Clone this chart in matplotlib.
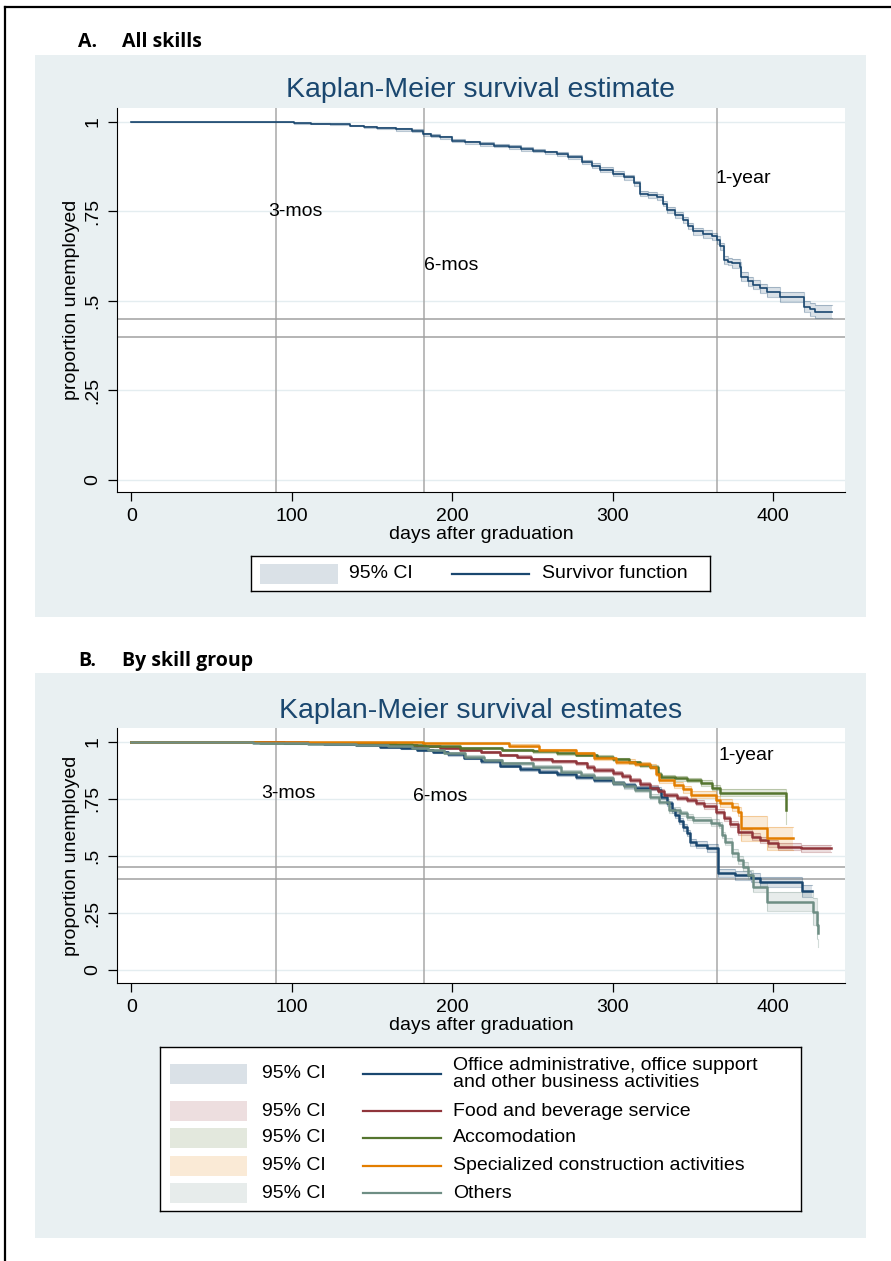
import matplotlib
matplotlib.use("Agg")
import matplotlib.pyplot as plt
from matplotlib.patches import Rectangle
from matplotlib.lines import Line2D

plt.rcParams["font.family"] = ["Liberation Sans", "DejaVu Sans"]

W, H = 891, 1261
BG = "#E9F0F2"
NAVY = "#1A476F"

# panel A - all skills: step knots (days, survivor, half width of 95% CI)
a_days = [0, 101, 112, 124, 136, 145, 153, 165, 175, 182, 187, 192, 200, 208, 217, 226, 235, 243, 250, 258,
          265, 272, 281, 287, 292, 300, 307, 313, 317, 322, 327.5, 331, 334, 339, 344, 347, 350, 356, 362, 365,
          367, 369, 372, 374, 379, 380, 384, 387.5, 392, 396, 404, 419, 423, 426, 436.5]
a_surv = [1.0, 0.996, 0.995, 0.993, 0.99, 0.986, 0.982, 0.979, 0.976, 0.966, 0.962, 0.957, 0.948, 0.943, 0.938,
          0.934, 0.93, 0.925, 0.92, 0.915, 0.91, 0.902, 0.889, 0.878, 0.866, 0.855, 0.845, 0.829, 0.80, 0.795,
          0.79, 0.772, 0.754, 0.74, 0.726, 0.71, 0.694, 0.687, 0.68, 0.67, 0.652, 0.615, 0.61, 0.605, 0.596,
          0.568, 0.555, 0.545, 0.535, 0.525, 0.512, 0.484, 0.476, 0.47, 0.47]
a_ci = [0.0, 0.002, 0.002, 0.002, 0.002, 0.003, 0.003, 0.003, 0.003, 0.004, 0.004, 0.004, 0.004, 0.005, 0.005,
        0.005, 0.005, 0.005, 0.005, 0.005, 0.006, 0.006, 0.006, 0.006, 0.007, 0.007, 0.007, 0.007, 0.008, 0.008,
        0.008, 0.008, 0.009, 0.009, 0.009, 0.009, 0.01, 0.01, 0.01, 0.01, 0.011, 0.011, 0.011, 0.012, 0.012,
        0.012, 0.012, 0.013, 0.013, 0.013, 0.014, 0.016, 0.018, 0.018, 0.018]

# panel B - by skill group
off_days = [0, 95, 120, 140, 155, 168, 178, 188, 197, 207, 218, 230, 242, 254, 265, 277, 288, 300, 307, 314,
            328, 330, 334, 337, 339, 341, 344, 346, 348, 352, 359, 365.5, 376, 386, 392, 417.7, 424]
off_surv = [1.0, 0.995, 0.99, 0.985, 0.978, 0.972, 0.965, 0.955, 0.945, 0.93, 0.915, 0.895, 0.88, 0.87, 0.86,
            0.848, 0.835, 0.82, 0.81, 0.797, 0.79, 0.76, 0.73, 0.70, 0.68, 0.655, 0.625, 0.60, 0.56, 0.55,
            0.535, 0.424, 0.415, 0.405, 0.387, 0.346, 0.346]
off_ci = [0.0, 0.002, 0.003, 0.003, 0.004, 0.004, 0.005, 0.005, 0.006, 0.006, 0.007, 0.007, 0.008, 0.008, 0.008,
          0.009, 0.009, 0.01, 0.01, 0.01, 0.011, 0.011, 0.012, 0.012, 0.013, 0.013, 0.014, 0.014, 0.015, 0.015,
          0.016, 0.018, 0.02, 0.02, 0.022, 0.028, 0.028]

food_days = [0, 110, 150, 165, 178, 192, 205, 218, 230, 240, 249, 262, 277, 284, 288, 300, 306, 311, 317, 323,
             328, 332, 340, 346, 352, 357, 364, 369, 373, 378, 387, 392, 397, 403, 417, 436]
food_surv = [1.0, 0.997, 0.993, 0.987, 0.98, 0.972, 0.965, 0.955, 0.943, 0.935, 0.924, 0.915, 0.906, 0.89, 0.877,
             0.865, 0.85, 0.833, 0.815, 0.80, 0.785, 0.768, 0.755, 0.746, 0.733, 0.719, 0.694, 0.665, 0.64, 0.607,
             0.585, 0.57, 0.556, 0.541, 0.534, 0.534]
food_ci = [0.0, 0.002, 0.003, 0.003, 0.004, 0.004, 0.005, 0.005, 0.005, 0.006, 0.006, 0.006, 0.007, 0.007, 0.007,
           0.008, 0.008, 0.008, 0.009, 0.009, 0.009, 0.01, 0.01, 0.01, 0.011, 0.011, 0.012, 0.012, 0.013, 0.013,
           0.014, 0.014, 0.015, 0.015, 0.016, 0.016]

acc_days = [0, 80, 105, 150, 175, 183, 205, 231, 250, 265, 277, 290, 300, 310, 317, 323, 328, 330, 339, 346,
            355, 362, 367, 408]
acc_surv = [1.0, 0.997, 0.995, 0.99, 0.985, 0.98, 0.975, 0.965, 0.958, 0.95, 0.943, 0.935, 0.924, 0.91, 0.90,
            0.892, 0.86, 0.848, 0.84, 0.833, 0.819, 0.80, 0.778, 0.70]
acc_ci = [0.0, 0.002, 0.002, 0.003, 0.003, 0.004, 0.004, 0.005, 0.005, 0.006, 0.006, 0.007, 0.007, 0.008, 0.008,
          0.008, 0.009, 0.009, 0.01, 0.01, 0.012, 0.013, 0.015, 0.06]

con_days = [0, 182, 235, 254, 277, 288, 302, 314, 323, 327, 329, 338, 344, 349, 364, 367, 374, 378, 380, 396, 412]
con_surv = [1.0, 0.994, 0.984, 0.965, 0.95, 0.928, 0.914, 0.904, 0.892, 0.86, 0.833, 0.811, 0.792, 0.768, 0.746,
            0.731, 0.716, 0.694, 0.621, 0.577, 0.577]
con_ci = [0.0, 0.003, 0.005, 0.006, 0.007, 0.008, 0.009, 0.01, 0.01, 0.011, 0.012, 0.013, 0.014, 0.015, 0.016,
          0.017, 0.018, 0.02, 0.055, 0.052, 0.052]

oth_days = [0, 76, 110, 140, 160, 175, 185, 195, 208, 220, 231, 250, 268, 280, 288, 300, 307, 314, 323, 329,
            335, 342, 346, 350, 361, 366, 368, 370, 374, 378, 381, 384, 387.5, 396, 425, 427, 428]
oth_surv = [1.0, 0.996, 0.993, 0.988, 0.982, 0.975, 0.965, 0.952, 0.936, 0.92, 0.906, 0.89, 0.87, 0.855, 0.84,
            0.819, 0.805, 0.789, 0.76, 0.738, 0.702, 0.687, 0.672, 0.658, 0.646, 0.636, 0.592, 0.563, 0.512, 0.482,
            0.453, 0.417, 0.366, 0.30, 0.256, 0.197, 0.161]
oth_ci = [0.0, 0.002, 0.003, 0.003, 0.004, 0.004, 0.005, 0.005, 0.006, 0.006, 0.007, 0.007, 0.008, 0.008, 0.009,
          0.009, 0.01, 0.01, 0.011, 0.011, 0.012, 0.012, 0.013, 0.013, 0.014, 0.014, 0.015, 0.016, 0.017, 0.018,
          0.019, 0.02, 0.022, 0.04, 0.06, 0.06, 0.06]

groups = ["Office administrative, office support\nand other business activities", "Food and beverage service",
          "Accomodation", "Specialized construction activities", "Others"]
group_colors = ["#1A476F", "#90353B", "#55752F", "#E37E00", "#6E8E84"]
group_data = [(off_days, off_surv, off_ci), (food_days, food_surv, food_ci), (acc_days, acc_surv, acc_ci),
              (con_days, con_surv, con_ci), (oth_days, oth_surv, oth_ci)]

ref_days = [90, 182.5, 365]
ref_props = [0.45, 0.40]
mark_text = ["3-mos", "6-mos", "1-year"]
x_ticks = [0, 100, 200, 300, 400]
y_ticks = [0, 0.25, 0.5, 0.75, 1]
y_labels = ["0", ".25", ".5", ".75", "1"]

fig = plt.figure(figsize=(W / 100, H / 100), dpi=100)


def rect(x0, y0, x1, y1):
    return [x0 / W, 1 - y1 / H, (x1 - x0) / W, (y1 - y0) / H]


def km(ax, days, surv, ci, color, lw):
    lo = [s - c for s, c in zip(surv, ci)]
    hi = [s + c for s, c in zip(surv, ci)]
    ax.fill_between(days, lo, hi, step="post", color=color, alpha=0.16, lw=0, zorder=2)
    ax.step(days, lo, where="post", color=color, alpha=0.3, lw=0.8, zorder=2)
    ax.step(days, hi, where="post", color=color, alpha=0.3, lw=0.8, zorder=2)
    ax.step(days, surv, where="post", color=color, lw=lw, zorder=3)


def setup(ax, ylim, marks):
    ax.set_xlim(-9, 444.7)
    ax.set_ylim(*ylim)
    for d in ref_days:
        ax.axvline(d, color="#A8A8A8", lw=1.1, zorder=1)
    for p in ref_props:
        ax.axhline(p, color="#A0A0A0", lw=1.1, zorder=1)
    for (x, y), t in zip(marks, mark_text):
        ax.text(x, y, t, fontsize=14, ha="left", va="center", zorder=4)
    ax.set_xticks(x_ticks)
    ax.set_yticks(y_ticks)
    ax.set_yticklabels(y_labels, rotation=90, va="center")
    ax.tick_params(direction="out", length=6.5, width=0.9, pad=5, labelsize=14)
    ax.set_xlabel("days after graduation", fontsize=14, labelpad=1)
    ax.set_ylabel("proportion unemployed", fontsize=14, labelpad=3)
    ax.spines["top"].set_visible(False)
    ax.spines["right"].set_visible(False)
    ax.grid(axis="y", color="#E4EDF0", lw=1.0)
    ax.set_axisbelow(True)


def legend(box, rows, xs):
    lax = fig.add_axes(rect(*box))
    lax.set_xlim(box[0], box[2])
    lax.set_ylim(box[3], box[1])
    lax.set_xticks([])
    lax.set_yticks([])
    for s in lax.spines.values():
        s.set_color("black")
        s.set_linewidth(1.0)
    for y, color, label in rows:
        lax.add_patch(Rectangle((xs[0], y - 10), xs[1] - xs[0], 20, color=color, alpha=0.16, lw=0))
        lax.text(xs[2], y, "95% CI", fontsize=14, va="center")
        lax.plot([xs[3], xs[4]], [y, y], color=color, lw=1.6)
        lax.text(xs[5], y, label, fontsize=14, va="center", linespacing=0.95)


# backgrounds and frame
for top, bottom in [(55, 617), (673, 1238)]:
    fig.add_artist(Rectangle((35 / W, 1 - bottom / H), (866 - 35) / W, (bottom - top) / H,
                             transform=fig.transFigure, color=BG, lw=0, zorder=-1))
fig.add_artist(Line2D([5 / W, 5 / W], [0, 1 - 7 / H], color="black", lw=1.6))
fig.add_artist(Line2D([5 / W, 1], [1 - 7 / H, 1 - 7 / H], color="black", lw=1.6))

fig.text(78 / W, 1 - 42 / H, "A.", fontsize=14, fontweight="bold", family="Open Sans", va="center")
fig.text(122 / W, 1 - 42 / H, "All skills", fontsize=14, fontweight="bold", family="Open Sans", va="center")
fig.text(78 / W, 1 - 661 / H, "B.", fontsize=14, fontweight="bold", family="Open Sans", va="center")
fig.text(122 / W, 1 - 661 / H, "By skill group", fontsize=14, fontweight="bold", family="Open Sans", va="center")

# panel A
axA = fig.add_axes(rect(117, 108, 845, 492))
setup(axA, (-0.034, 1.039), [(85, 0.75), (182.3, 0.60), (364.3, 0.843)])
km(axA, a_days, a_surv, a_ci, NAVY, 1.2)
fig.text(481 / W, 1 - 90 / H, "Kaplan-Meier survival estimate", fontsize=20.5, color=NAVY, ha="center", va="center")
legend((251, 556, 710, 591), [(573.5, NAVY, "Survivor function")], (260, 338, 349, 452, 529, 542))

# panel B
axB = fig.add_axes(rect(117, 728, 845, 983))
setup(axB, (-0.057, 1.061), [(81, 0.776), (175.4, 0.759), (365.6, 0.939)])
for (d, s, c), col in zip(group_data, group_colors):
    km(axB, d, s, c, col, 1.8)
fig.text(481 / W, 1 - 711 / H, "Kaplan-Meier survival estimates", fontsize=20.5, color=NAVY, ha="center", va="center")
legend((160, 1047, 801, 1211), list(zip([1074, 1111, 1138, 1166, 1193], group_colors, groups)),
       (170, 247, 262, 363, 441, 453))

fig.savefig("out.png", dpi=100, facecolor="white")
